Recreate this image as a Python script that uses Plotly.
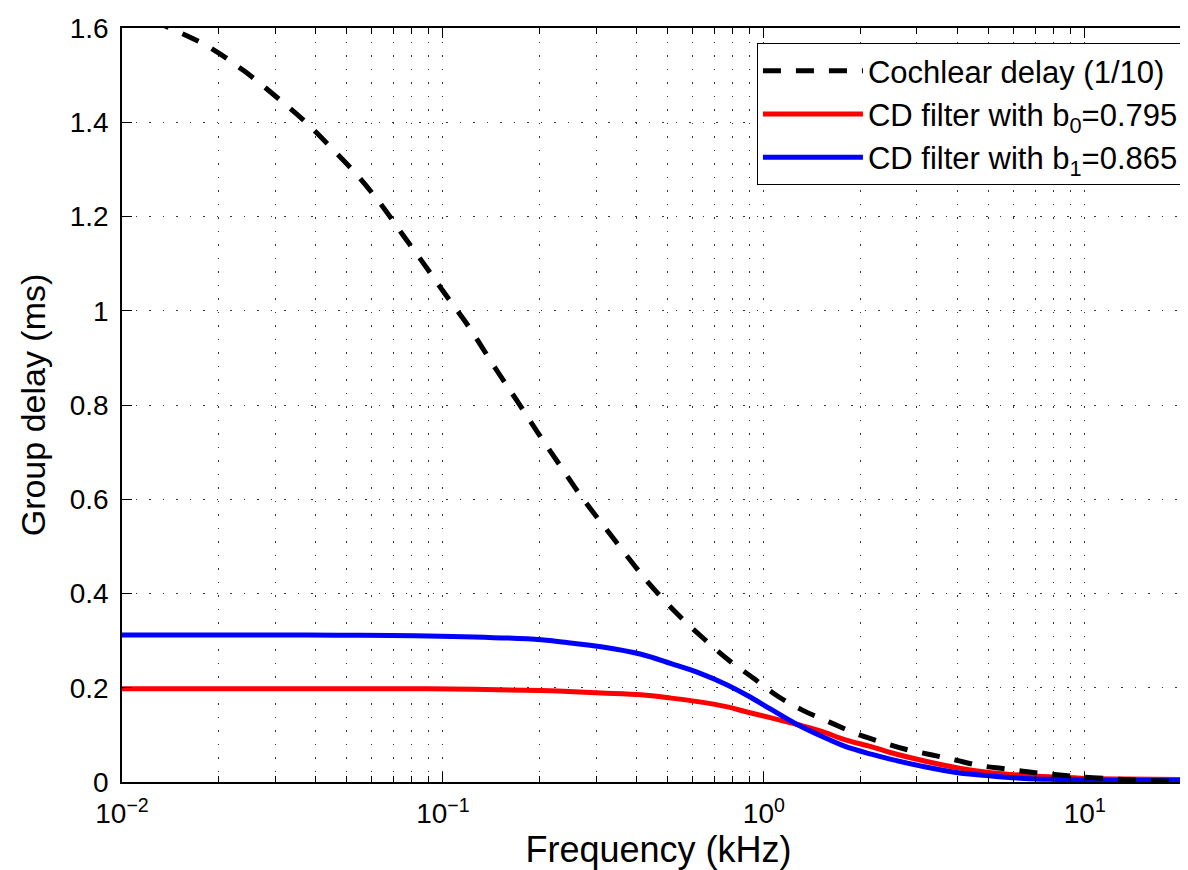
import math
import plotly.graph_objects as go

# ---- data ----
freq_cd = [0.010, 0.01408, 0.01853, 0.02411, 0.03099, 0.03751, 0.04544, 0.05435, 0.06425,
           0.07466, 0.08709, 0.1012, 0.1182, 0.1483, 0.1713, 0.1977, 0.2310, 0.2697,
           0.3266, 0.3956, 0.4405, 0.5331, 0.6503, 0.7726, 0.9242, 1.1055, 1.3229,
           1.602, 1.917, 2.293, 2.744, 3.283, 3.928, 4.699, 5.620, 6.726, 8.046,
           9.627, 11.65, 13.94, 16.68, 19.95, 22.05]
delay_cd = [1.645, 1.600, 1.561, 1.508, 1.448, 1.399, 1.342, 1.286, 1.225,
            1.163, 1.100, 1.037, 0.974, 0.870, 0.806, 0.741, 0.673, 0.606,
            0.532, 0.459, 0.420, 0.359, 0.304, 0.260, 0.221, 0.182, 0.152,
            0.127, 0.104, 0.086, 0.070, 0.0585, 0.047, 0.035, 0.028, 0.021, 0.016,
            0.011, 0.0076, 0.0045, 0.0025, 0.0012, 0.0008]

freq_b = [0.010, 0.02653, 0.0471, 0.0898, 0.2024, 0.2282, 0.3113, 0.4148, 0.5144,
          0.6304, 0.7632, 0.8917, 1.054, 1.270, 1.508, 1.784, 2.160, 2.493, 3.167,
          4.022, 5.107, 6.488, 8.239, 10.46, 13.30, 22.05]
delay_b0 = [0.198, 0.198, 0.198, 0.198, 0.194, 0.193, 0.189, 0.185, 0.178,
            0.170, 0.160, 0.148, 0.136, 0.122, 0.108, 0.090, 0.075, 0.062, 0.0445,
            0.030, 0.0197, 0.014, 0.0106, 0.0076, 0.0064, 0.005]
delay_b1 = [0.312, 0.312, 0.3115, 0.310, 0.302, 0.298, 0.287, 0.271, 0.251,
            0.231, 0.207, 0.183, 0.154, 0.122, 0.0975, 0.076, 0.059, 0.048, 0.0324,
            0.0197, 0.0127, 0.0076, 0.0055, 0.0042, 0.0034, 0.0028]

x_tickvals = [0.01, 0.1, 1, 10]
x_ticktext = ["10<sup>−2</sup>", "10<sup>−1</sup>", "10<sup>0</sup>", "10<sup>1</sup>"]
x_minorvals = [m * 10 ** e for e in (-2, -1, 0, 1) for m in range(2, 10) if m * 10 ** e <= 22.05]

names = ["Cochlear delay (1/10)",
         "CD filter with b<sub>0</sub>=0.795",
         "CD filter with b<sub>1</sub>=0.865"]

FONT = "Liberation Sans, Arial, Helvetica, sans-serif"
GRID_DASH = "1.5px,12px"

fig = go.Figure()
fig.add_trace(go.Scatter(x=freq_b, y=delay_b0, mode="lines", name=names[1],
                         line=dict(color="#ff0000", width=5, shape="spline"),
                         legendrank=2, legendgroup="b0"))
fig.add_trace(go.Scatter(x=freq_b, y=delay_b1, mode="lines", name=names[2],
                         line=dict(color="#0000ff", width=5, shape="spline"),
                         legendrank=3, legendgroup="b1"))
fig.add_trace(go.Scatter(x=freq_cd, y=delay_cd, mode="lines", name=names[0],
                         line=dict(color="#000000", width=5, dash="18px,15px", shape="spline"),
                         legendrank=1, legendgroup="cd"))

fig.update_layout(
    width=1188, height=870,
    margin=dict(l=114, r=1, t=20, b=96, pad=0),
    paper_bgcolor="white", plot_bgcolor="white",
    font=dict(family=FONT, size=28, color="black"),
    showlegend=True,
    legend=dict(x=0.9897, xanchor="right", y=0.980, yanchor="top",
                bgcolor="white", bordercolor="black", borderwidth=1,
                font=dict(family=FONT, size=31, color="black"),
                itemwidth=100, tracegroupgap=15, traceorder="normal"),
    xaxis=dict(type="log", range=[-2, math.log10(22.05)], automargin=False,
               title=dict(text="Frequency (kHz)", font=dict(size=36), standoff=8),
               tickmode="array", tickvals=x_tickvals, ticktext=x_ticktext,
               ticks="inside", ticklen=10, tickwidth=1, tickcolor="black",
               showline=True, linecolor="black", linewidth=1.5, mirror="ticks",
               showgrid=True, gridcolor="#333", gridwidth=1, griddash=GRID_DASH,
               zeroline=False, ticklabelstandoff=6,
               minor=dict(tickmode="array", tickvals=x_minorvals, ticks="inside",
                          ticklen=6, tickwidth=1, tickcolor="black",
                          showgrid=True, gridcolor="#333", gridwidth=1, griddash=GRID_DASH)),
    yaxis=dict(range=[0, 1.6], tick0=0, dtick=0.2, automargin=False,
               title=dict(text="Group delay (ms)", font=dict(size=34), standoff=14),
               ticks="inside", ticklen=10, tickwidth=1, tickcolor="black",
               showline=True, linecolor="black", linewidth=1.5, mirror="ticks",
               showgrid=True, gridcolor="#333", gridwidth=1, griddash=GRID_DASH,
               zeroline=False, ticklabelstandoff=6),
)

fig.write_html("out.html")
